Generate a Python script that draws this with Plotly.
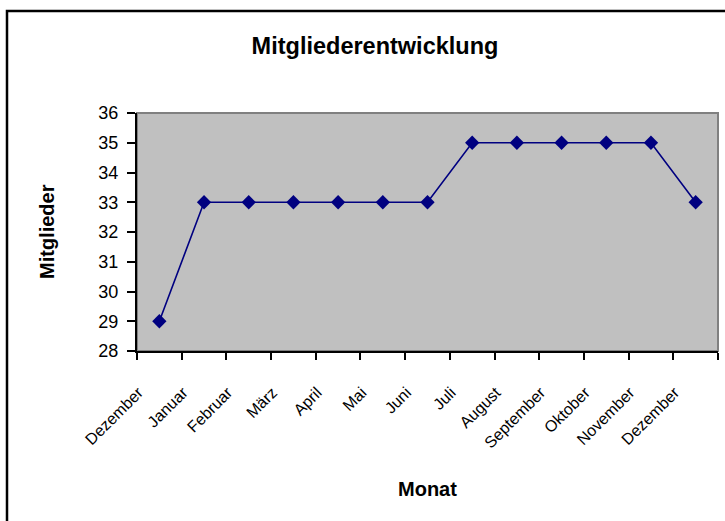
import plotly.graph_objects as go

months = ["Dezember", "Januar", "Februar", "März", "April", "Mai", "Juni",
          "Juli", "August", "September", "Oktober", "November", "Dezember"]
members = [29, 33, 33, 33, 33, 33, 33, 35, 35, 35, 35, 35, 33]

W, H = 725, 521
L, R, T, B = 137, 7, 113, 170
pw, ph = W - L - R, H - T - B

def px_x(x):
    return (x - L) / pw

def px_y(y):
    return (H - B - y) / ph

idx = list(range(len(months)))

fig = go.Figure()
fig.add_trace(go.Scatter(
    x=idx, y=members, mode="lines+markers",
    line=dict(color="#000080", width=1.6),
    marker=dict(symbol="diamond", size=11, color="#000080"),
    showlegend=False, cliponaxis=False,
))

font_main = "Arial, Liberation Sans, sans-serif"

fig.update_layout(
    width=W, height=H,
    margin=dict(l=L, r=R, t=T, b=B),
    paper_bgcolor="white",
    plot_bgcolor="#C0C0C0",
    font=dict(family=font_main, color="black"),
    title=dict(text="<b>Mitgliederentwicklung</b>", x=375 / W, y=1 - 46 / H,
               xref="container", yref="container", xanchor="center", yanchor="middle",
               font=dict(size=23.5, family=font_main, color="black")),
    xaxis=dict(
        range=[-0.5, len(months) - 0.5],
        tickmode="array", tickvals=idx, ticktext=months,
        tickangle=-45, ticks="", showgrid=False, zeroline=False,
        showline=True, linecolor="black", linewidth=2,
        tickfont=dict(size=16, family=font_main, color="black"),
        ticklabelshift=-21, ticklabelstandoff=24,
        minor=dict(ticks="outside", tickmode="array",
                   tickvals=[i - 0.5 for i in range(len(months) + 1)],
                   ticklen=7, tickwidth=1.5, tickcolor="black", showgrid=False),
    ),
    yaxis=dict(
        range=[28, 36], tickmode="linear", tick0=28, dtick=1,
        ticks="outside", ticklen=8, tickwidth=1.5, tickcolor="black",
        showgrid=False, zeroline=False,
        showline=True, linecolor="black", linewidth=2,
        tickfont=dict(size=18, family=font_main, color="black"),
        ticklabelstandoff=5,
    ),
    shapes=[
        dict(type="rect", xref="paper", yref="paper", x0=0, x1=1, y0=0, y1=1,
             line=dict(color="#808080", width=2), layer="below"),
        dict(type="rect", xref="paper", yref="paper",
             x0=px_x(7), x1=1.2, y0=-1.2, y1=px_y(11),
             line=dict(color="black", width=2.5), fillcolor="rgba(0,0,0,0)"),
    ],
    annotations=[
        dict(text="<b>Mitglieder</b>", xref="paper", yref="paper",
             x=px_x(47), y=0.5, textangle=-90, showarrow=False,
             xanchor="center", yanchor="middle",
             font=dict(size=20, family=font_main, color="black")),
        dict(text="<b>Monat</b>", xref="paper", yref="paper",
             x=0.5, y=px_y(489), showarrow=False,
             xanchor="center", yanchor="middle",
             font=dict(size=20, family=font_main, color="black")),
    ],
)

fig.write_html("out.html", config={"displayModeBar": False},
               post_script="document.body.style.margin='0';")
